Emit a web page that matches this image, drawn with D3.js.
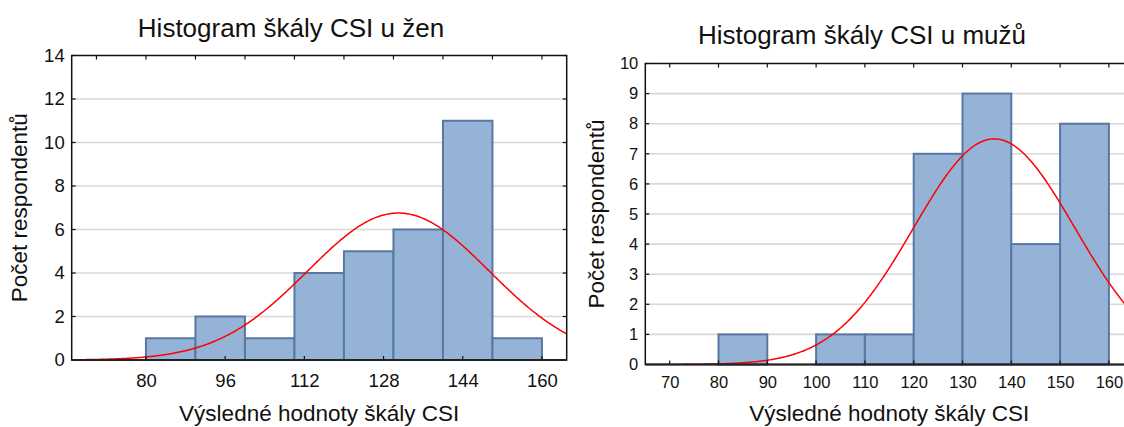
<!DOCTYPE html>
<html>
<head>
<meta charset="utf-8">
<script src="https://cdn.jsdelivr.net/npm/d3@7"></script>
<style>
  html, body { margin: 0; padding: 0; background: #fff; }
  svg { display: block; }
  text { font-family: "Liberation Sans", Arial, sans-serif; fill: #111; }
</style>
</head>
<body>
<svg id="chart" width="1124" height="427"></svg>
<script>
// ---- data ----
const binStarts = [80, 90, 100, 110, 120, 130, 140, 150];
const binWidth = 10;
const womenCounts = [1, 2, 1, 4, 5, 6, 11, 1];
const menCounts = [1, 0, 1, 1, 7, 9, 4, 8];
const womenXTicks = [80, 96, 112, 128, 144, 160];
const menXTicks = [70, 80, 90, 100, 110, 120, 130, 140, 150, 160];
const minorXTicks = [70, 80, 90, 100, 110, 120, 130, 140, 150, 160];
const womenYTicks = [0, 2, 4, 6, 8, 10, 12, 14];
const menYTicks = [0, 1, 2, 3, 4, 5, 6, 7, 8, 9, 10];
const womenFit = { mean: 131, sd: 18.3 };
const menFit = { mean: 136.5, sd: 16.5 };
const xDomain = [65, 165];
const womenTitle = "Histogram škály CSI u žen";
const menTitle = "Histogram škály CSI u mužů";
const xTitle = "Výsledné hodnoty škály CSI";
const yTitle = "Počet respondentů";

const svg = d3.select("#chart");

function drawHist(opt) {
  const g = svg.append("g");
  const x = d3.scaleLinear().domain(xDomain).range([opt.left, opt.right]);
  const y = d3.scaleLinear().domain([0, opt.yMax]).range([opt.bottom, opt.top]);
  const clipId = "clip" + opt.id;
  svg.append("clipPath").attr("id", clipId).append("rect")
    .attr("x", opt.left).attr("y", opt.top)
    .attr("width", opt.right - opt.left).attr("height", opt.bottom - opt.top);

  // gridlines
  g.append("g").selectAll("line").data(opt.yTicks.filter(d => d > 0 && d < opt.yMax))
    .join("line")
    .attr("x1", opt.left).attr("x2", opt.right)
    .attr("y1", d => y(d)).attr("y2", d => y(d))
    .attr("stroke", "#d8d8d8").attr("stroke-width", 1.6);

  // bars
  const data = binStarts.map((s, i) => ({ s, c: opt.counts[i] })).filter(d => d.c > 0);
  g.append("g").selectAll("rect").data(data).join("rect")
    .attr("x", d => x(d.s))
    .attr("y", d => y(d.c))
    .attr("width", d => x(d.s + binWidth) - x(d.s))
    .attr("height", d => y(0) - y(d.c))
    .attr("fill", "#95b3d7")
    .attr("stroke", "#5a789f")
    .attr("stroke-width", 2);

  // normal fit curve
  const n = d3.sum(opt.counts);
  const pts = d3.range(xDomain[0], xDomain[1] + 0.01, 0.25).map(v => {
    const z = (v - opt.fit.mean) / opt.fit.sd;
    return [v, n * binWidth / (opt.fit.sd * Math.sqrt(2 * Math.PI)) * Math.exp(-0.5 * z * z)];
  });
  g.append("path").datum(pts)
    .attr("clip-path", `url(#${clipId})`)
    .attr("d", d3.line().x(d => x(d[0])).y(d => y(d[1])))
    .attr("fill", "none").attr("stroke", "#ff0000").attr("stroke-width", 1.5);

  // axes (labels) using d3 axes
  const yAxis = d3.axisLeft(y).tickValues(opt.yTicks).tickSize(0).tickPadding(7);
  const ya = g.append("g").attr("transform", `translate(${opt.left},0)`).call(yAxis);
  ya.select(".domain").remove();
  ya.selectAll("text").style("font-size", opt.tickFont + "px").style("font-family", "Liberation Sans, Arial, sans-serif").attr("fill", "#111");

  const xAxis = d3.axisBottom(x).tickValues(opt.xTicks).tickSize(0).tickPadding(opt.xPad);
  const xa = g.append("g").attr("transform", `translate(0,${opt.bottom})`).call(xAxis);
  xa.select(".domain").remove();
  xa.selectAll("text").style("font-size", opt.tickFont + "px").style("font-family", "Liberation Sans, Arial, sans-serif").attr("fill", "#111");

  // inward ticks
  const tk = g.append("g").attr("stroke", "#111").attr("stroke-width", 1.2);
  tk.selectAll(".yl").data(opt.yTicks).join("line")
    .attr("x1", opt.left).attr("x2", opt.left + 4)
    .attr("y1", d => y(d)).attr("y2", d => y(d));
  tk.selectAll(".yr").data(opt.yTicks).join("line")
    .attr("x1", opt.right).attr("x2", opt.right - 4)
    .attr("y1", d => y(d)).attr("y2", d => y(d));
  tk.selectAll(".xt").data(minorXTicks).join("line")
    .attr("x1", d => x(d)).attr("x2", d => x(d))
    .attr("y1", opt.top).attr("y2", opt.top + 4);
  tk.selectAll(".xb").data(opt.xTicks).join("line")
    .attr("x1", d => x(d)).attr("x2", d => x(d))
    .attr("y1", opt.bottom).attr("y2", opt.bottom - 4);

  // frame
  g.append("rect").attr("x", opt.left).attr("y", opt.top)
    .attr("width", opt.right - opt.left).attr("height", opt.bottom - opt.top)
    .attr("fill", "none").attr("stroke", "#111").attr("stroke-width", 1.5);
  g.append("line").attr("x1", opt.left).attr("x2", opt.right)
    .attr("y1", opt.bottom).attr("y2", opt.bottom)
    .attr("stroke", "#222").attr("stroke-width", 2.2);

  // titles
  g.append("text").attr("x", opt.titleX).attr("y", opt.titleY)
    .attr("text-anchor", "middle").style("font-size", "26px").text(opt.title);
  g.append("text").attr("x", (opt.left + opt.right) / 2).attr("y", 421)
    .attr("text-anchor", "middle").style("font-size", "22.5px").text(xTitle);
  g.append("text")
    .attr("transform", `translate(${opt.yTitleX},${(opt.top + opt.bottom) / 2}) rotate(-90)`)
    .attr("text-anchor", "middle").style("font-size", "22.5px").text(yTitle);
}

drawHist({
  id: "w", counts: womenCounts, fit: womenFit, yMax: 14, yTicks: womenYTicks, xTicks: womenXTicks,
  left: 71.7, right: 566.7, top: 55.5, bottom: 360, tickFont: 18.5, xPad: 14,
  title: womenTitle, titleX: 291, titleY: 37, yTitleX: 27
});
drawHist({
  id: "m", counts: menCounts, fit: menFit, yMax: 10, yTicks: menYTicks, xTicks: menXTicks,
  left: 645.3, right: 1133.3, top: 63.5, bottom: 364.5, tickFont: 16.5, xPad: 11.5,
  title: menTitle, titleX: 862, titleY: 44, yTitleX: 604
});
</script>
</body>
</html>
